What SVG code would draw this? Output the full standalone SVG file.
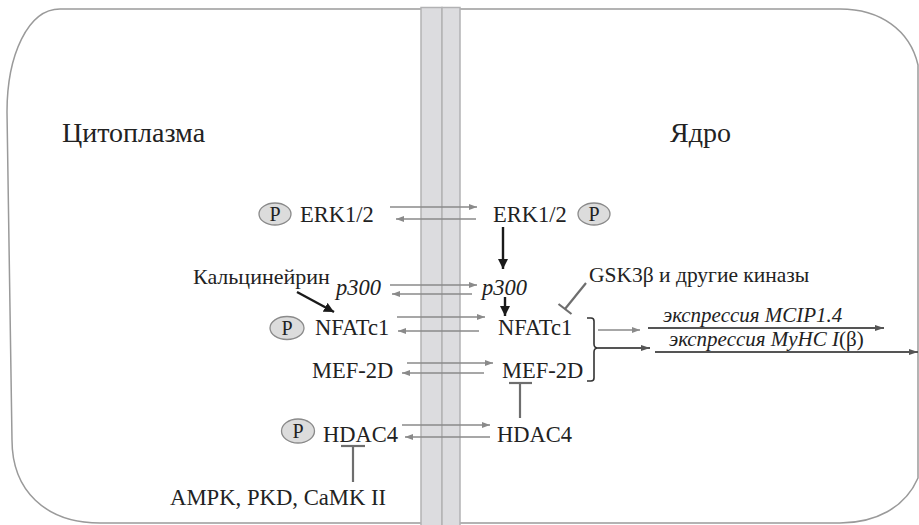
<svg xmlns="http://www.w3.org/2000/svg" width="919" height="525" viewBox="0 0 919 525" font-family="'Liberation Serif','DejaVu Serif',serif">
<defs>
<style>
text{font-family:"Liberation Serif","Times New Roman","DejaVu Serif",serif;fill:#222;}
.lbl{font-size:22.5px;}
.sm{font-size:20px;}
.ttl{font-size:28px;}
.it{font-style:italic;}
.ex{stroke:#8a8a8a;stroke-width:1.3;fill:none;}
.blk{stroke:#1a1a1a;stroke-width:2.4;fill:none;}
.inh{stroke:#6e6e6e;stroke-width:2.2;fill:none;}
.exp{stroke:#555;stroke-width:2;fill:none;}
.pe{fill:#dcdcdc;stroke:#8a8a8a;stroke-width:1.3;}
.mem{fill:#dcdcdf;stroke:#b2b2b4;stroke-width:1.5;}
</style>
<marker id="ag" viewBox="0 0 8 6" refX="8" refY="3" markerWidth="8" markerHeight="6" markerUnits="userSpaceOnUse" orient="auto"><path d="M0,0 L8,3 L0,6 z" fill="#8a8a8a"/></marker>
<marker id="ab" viewBox="0 0 10 10" refX="10" refY="5" markerWidth="10" markerHeight="10" markerUnits="userSpaceOnUse" orient="auto"><path d="M0,0 L10,5 L0,10 z" fill="#1a1a1a"/></marker>
<marker id="ad" viewBox="0 0 9 6" refX="9" refY="3" markerWidth="9" markerHeight="6" markerUnits="userSpaceOnUse" orient="auto"><path d="M0,0 L9,3 L0,6 z" fill="#555"/></marker>
</defs>
<rect width="919" height="525" fill="#fff"/>
<g id="cell">
<path d="M60,9 H840 C880,9 910,30 918,65 V478 C905,508 875,523 840,523 H100 C45,523 12,490 12,440 L7,112 C7,55 28,9 60,9 Z" fill="none" stroke="#9a9a9a" stroke-width="1.5"/>
</g>
<g id="membrane">
<rect class="mem" x="421" y="7.5" width="21" height="520"/>
<rect class="mem" x="442" y="7.5" width="18" height="520"/>
</g>
<g id="titles">
<text class="ttl" x="62" y="142">Цитоплазма</text>
<text class="ttl" x="670" y="142">Ядро</text>
</g>
<g id="connectors">
<line class="ex" x1="390" y1="207" x2="477" y2="207" marker-end="url(#ag)"/>
<line class="ex" x1="476" y1="219" x2="396" y2="219" marker-end="url(#ag)"/>
<line class="ex" x1="390" y1="285" x2="477" y2="285" marker-end="url(#ag)"/>
<line class="ex" x1="472" y1="294" x2="392" y2="294" marker-end="url(#ag)"/>
<line class="ex" x1="397" y1="317" x2="485" y2="317" marker-end="url(#ag)"/>
<line class="ex" x1="479" y1="331" x2="398" y2="331" marker-end="url(#ag)"/>
<line class="ex" x1="407" y1="363" x2="493" y2="363" marker-end="url(#ag)"/>
<line class="ex" x1="484" y1="373" x2="402" y2="373" marker-end="url(#ag)"/>
<line class="ex" x1="402" y1="425" x2="490" y2="425" marker-end="url(#ag)"/>
<line class="ex" x1="490" y1="437" x2="405" y2="437" marker-end="url(#ag)"/>
<line class="blk" x1="503" y1="227" x2="503" y2="269" marker-end="url(#ab)"/>
<line class="blk" x1="505" y1="297" x2="505" y2="316" marker-end="url(#ab)"/>
<line class="blk" x1="297" y1="292" x2="334" y2="312" marker-end="url(#ab)"/>
<line class="inh" x1="586" y1="283" x2="565" y2="309"/>
<line class="inh" x1="558.5" y1="304" x2="571.5" y2="314"/>
<line class="inh" x1="520" y1="418" x2="520" y2="383"/>
<line class="inh" x1="509" y1="383" x2="532" y2="383"/>
<line class="inh" x1="353" y1="482" x2="353" y2="446"/>
<line class="inh" x1="341" y1="446" x2="365" y2="446"/>
<path d="M587,318 H591 Q594,318 594,321 V344 Q594,348 598,348 Q594,348 594,352 V378 Q594,381 591,381 H587" fill="none" stroke="#333" stroke-width="1.6"/>
<line class="exp" x1="598" y1="348" x2="650" y2="348" marker-end="url(#ad)"/>
<line class="ex" x1="598" y1="330" x2="640" y2="330" marker-end="url(#ag)"/>
<line class="exp" x1="648" y1="328" x2="884" y2="328" marker-end="url(#ad)"/>
<line class="exp" x1="655" y1="352" x2="918" y2="352" marker-end="url(#ad)"/>
</g>
<g id="erk-cyto"><ellipse class="pe" cx="275" cy="214" rx="16" ry="11"/><text class="sm" x="275" y="221" text-anchor="middle">P</text><text class="lbl" x="300" y="222">ERK1/2</text></g>
<g id="erk-nuc"><text class="lbl" x="493" y="222">ERK1/2</text><ellipse class="pe" cx="594" cy="214" rx="16" ry="11"/><text class="sm" x="594" y="221" text-anchor="middle">P</text></g>
<g id="calcineurin"><text x="193" y="284" font-size="22">Кальцинейрин</text></g>
<g id="p300-cyto"><text class="lbl it" x="336" y="295">p300</text></g>
<g id="p300-nuc"><text class="lbl it" x="482" y="295">p300</text></g>
<g id="gsk"><text x="589" y="282" font-size="21.5">GSK3β и другие киназы</text></g>
<g id="nfat-cyto"><ellipse class="pe" cx="287" cy="328" rx="17" ry="11.5"/><text class="sm" x="287" y="335" text-anchor="middle">P</text><text class="lbl" x="315" y="335">NFATc1</text></g>
<g id="nfat-nuc"><text class="lbl" x="498" y="335">NFATc1</text></g>
<g id="mef-cyto"><text class="lbl" x="312" y="378">MEF-2D</text></g>
<g id="mef-nuc"><text class="lbl" x="502" y="378">MEF-2D</text></g>
<g id="hdac-cyto"><ellipse class="pe" cx="298" cy="431" rx="16.5" ry="12"/><text class="sm" x="298" y="438" text-anchor="middle">P</text><text class="lbl" x="323" y="442">HDAC4</text></g>
<g id="hdac-nuc"><text class="lbl" x="497" y="442">HDAC4</text></g>
<g id="ampk"><text x="170" y="505" font-size="22.7">AMPK, PKD, CaMK II</text></g>
<g id="mcip"><text class="it" x="663" y="322" font-size="21">экспрессия MCIP1.4</text></g>
<g id="myhc"><text class="it" x="669" y="346" font-size="21">экспрессия MyHC I<tspan font-style="normal">(β)</tspan></text></g>
</svg>
